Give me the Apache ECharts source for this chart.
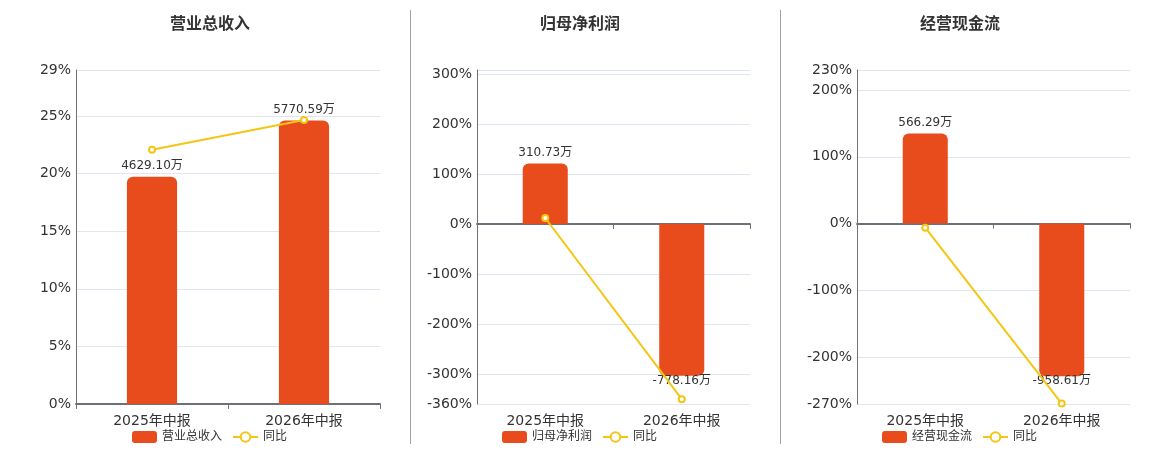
<!DOCTYPE html>
<html lang="zh-CN">
<head>
    <meta charset="UTF-8">
    <title>营业总收入 / 归母净利润 / 经营现金流</title>
    <script src="https://cdn.jsdelivr.net/npm/echarts/dist/echarts.min.js"></script>
    <style>
        html, body { margin: 0; padding: 0; background: #fff; }
        #chart { width: 1160px; height: 450px; }
    </style>
</head>
<body>
<div id="chart"></div>
<script>
    // dados (valores em 万, 同比 em %)
    var categories = ['2025年中报', '2026年中报'];
    var titles = ['营业总收入', '归母净利润', '经营现金流'];

    var revenue = [4629.10, 5770.59];
    var revenueYoy = [22.07, 24.66];
    var profit = [310.73, -778.16];
    var profitYoy = [12.0, -350.4];
    var cashflow = [566.29, -958.61];
    var cashflowYoy = [-6.0, -269.3];

    // eixo percentual de cada painel
    var pctTicks1 = [0, 5, 10, 15, 20, 25, 29];
    var pctTicks2 = [-360, -300, -200, -100, 0, 100, 200, 300, 308];
    var pctLabels2 = [-360, -300, -200, -100, 0, 100, 200, 300];
    var pctTicks3 = [-270, -200, -100, 0, 100, 200, 230];

    var barColor = '#E84C1D';
    var lineColor = '#F4C613';
    var textColor = '#333';
    var axisColor = '#6E7079';

    var chart = echarts.init(document.getElementById('chart'));

    var grids = [
        { left: 76, top: 70, width: 304, bottom: 46 },
        { left: 477, top: 70, width: 273, bottom: 46 },
        { left: 857, top: 70, width: 273, bottom: 46 }
    ];
    var titleX = [205, 575, 955];
    var legendX = [127, 497, 877];

    function barItems(values) {
        return values.map(function (v) {
            var neg = v < 0;
            return {
                value: v,
                itemStyle: { borderRadius: neg ? [0, 0, 6, 6] : [6, 6, 0, 0] },
                label: neg ? { position: 'bottom', distance: -1 } : { position: 'top', distance: 5 }
            };
        });
    }

    function pctAxis(gi, min, max, ticks, labels) {
        return {
            type: 'value', gridIndex: gi, min: min, max: max,
            axisLine: { show: true, lineStyle: { color: axisColor, width: 1 } },
            axisTick: { show: false, customValues: ticks },
            axisLabel: { customValues: labels || ticks, color: textColor, fontSize: 14, margin: 5, formatter: '{value}%' },
            splitLine: { lineStyle: { color: '#E0E6F1' } }
        };
    }

    function barAxis(gi, min, max) {
        return { type: 'value', gridIndex: gi, min: min, max: max, show: false, splitLine: { show: false } };
    }

    var bars = [revenue, profit, cashflow];
    var yoys = [revenueYoy, profitYoy, cashflowYoy];

    var series = [];
    for (var i = 0; i < 3; i++) {
        series.push({
            name: titles[i], type: 'bar', xAxisIndex: i, yAxisIndex: 3 + i,
            barWidth: '33%',
            itemStyle: { color: barColor },
            label: {
                show: true, color: textColor, fontSize: 12,
                formatter: function (p) { return p.value.toFixed(2) + '万'; }
            },
            data: barItems(bars[i])
        });
        series.push({
            name: '同比', type: 'line', xAxisIndex: i, yAxisIndex: i,
            symbol: 'emptyCircle', symbolSize: 6,
            itemStyle: { color: lineColor },
            lineStyle: { color: lineColor, width: 2 },
            data: yoys[i]
        });
    }

    var option = {
        textStyle: { fontFamily: 'DejaVu Sans, Noto Sans CJK SC, sans-serif' },
        title: titles.map(function (t, i) {
            return {
                text: t, left: titleX[i], top: 12, textAlign: 'center',
                textStyle: { fontSize: 16, fontWeight: 'bold', color: textColor }
            };
        }),
        legend: titles.map(function (t, i) {
            return {
                left: legendX[i], top: 426, itemWidth: 25, itemHeight: 12, itemGap: 10,
                textStyle: { fontSize: 12, color: textColor },
                data: [
                    { name: t, icon: 'roundRect' },
                    { name: '同比' }
                ],
                seriesIndex: [2 * i, 2 * i + 1]
            };
        }),
        grid: grids,
        xAxis: [0, 1, 2].map(function (i) {
            return {
                type: 'category', gridIndex: i, data: categories,
                axisLine: { lineStyle: { color: axisColor, width: 2 } },
                axisTick: { show: true, length: 5, lineStyle: { color: axisColor } },
                axisLabel: { color: textColor, fontSize: 14, margin: 10 }
            };
        }),
        yAxis: [
            pctAxis(0, 0, 29, pctTicks1),
            pctAxis(1, -360, 308, pctTicks2, pctLabels2),
            pctAxis(2, -270, 230, pctTicks3),
            barAxis(0, 0, 6800),
            barAxis(1, -923, 790),
            barAxis(2, -1132, 964)
        ],
        graphic: [
            { type: 'line', shape: { x1: 410.5, y1: 10, x2: 410.5, y2: 444 }, style: { stroke: '#A3A39D', lineWidth: 1 } },
            { type: 'line', shape: { x1: 780.5, y1: 10, x2: 780.5, y2: 444 }, style: { stroke: '#A3A39D', lineWidth: 1 } }
        ],
        series: series
    };

    chart.setOption(option);
</script>
</body>
</html>
